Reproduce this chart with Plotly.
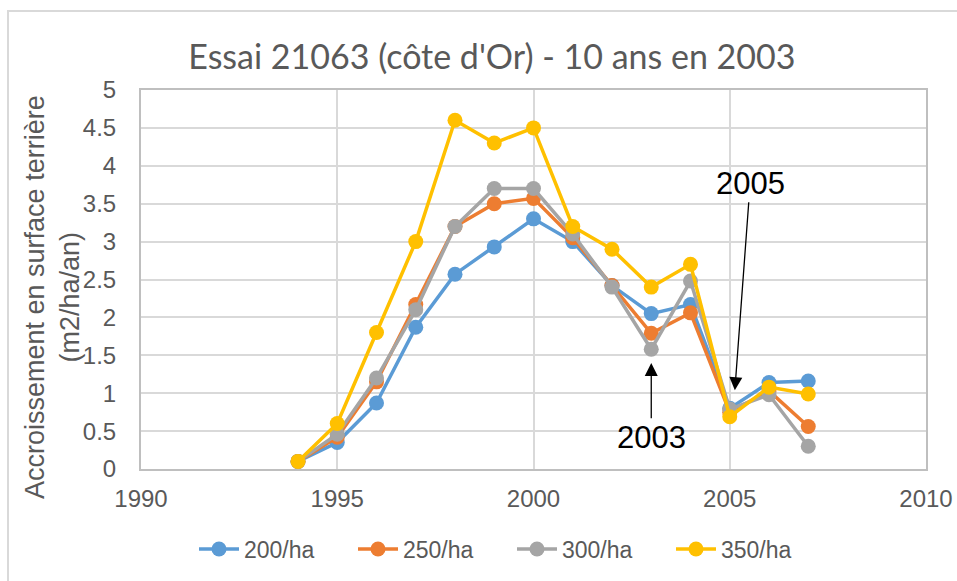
import plotly.graph_objects as go

years = [1994, 1995, 1996, 1997, 1998, 1999, 2000, 2001, 2002, 2003, 2004, 2005, 2006, 2007]
s200 = [0.10, 0.35, 0.87, 1.87, 2.57, 2.93, 3.30, 3.00, 2.42, 2.05, 2.17, 0.80, 1.14, 1.16]
s250 = [0.10, 0.42, 1.15, 2.17, 3.20, 3.50, 3.57, 3.05, 2.42, 1.79, 2.06, 0.75, 1.03, 0.56]
s300 = [0.10, 0.46, 1.20, 2.10, 3.20, 3.70, 3.70, 3.10, 2.40, 1.58, 2.48, 0.79, 0.98, 0.30]
s350 = [0.10, 0.60, 1.80, 3.00, 4.60, 4.30, 4.50, 3.20, 2.90, 2.40, 2.70, 0.69, 1.08, 0.99]
series_names = ["200/ha", "250/ha", "300/ha", "350/ha"]
series_values = [s200, s250, s300, s350]
colors = ["#5B9BD5", "#ED7D31", "#A5A5A5", "#FFC000"]

title_text = "Essai 21063 (côte d'Or) - 10 ans en 2003"
ytitle = "Accroissement en surface terrière<br>(m2/ha/an)"
xticks = [1990, 1995, 2000, 2005, 2010]
yticks = [0, 0.5, 1, 1.5, 2, 2.5, 3, 3.5, 4, 4.5, 5]
ytick_labels = ["0", "0.5", "1", "1.5", "2", "2.5", "3", "3.5", "4", "4.5", "5"]

fig = go.Figure()
for name, vals, col in zip(series_names, series_values, colors):
    fig.add_trace(go.Scatter(
        x=years, y=vals, name=name, mode="lines+markers",
        line=dict(color=col, width=3.5),
        marker=dict(color=col, size=15),
    ))

W, H = 957, 581
L, R, T, B = 141, 31, 90, 112
pw = W - L - R
ph = H - T - B

def px_to_paper_x(px):
    return (px - L) / pw

def px_to_paper_y(py):
    return (H - B - py) / ph

FONT = "Liberation Sans, Arial, sans-serif"
tickfont = dict(family=FONT, size=24, color="#595959")

fig.update_layout(
    width=W, height=H,
    margin=dict(l=L, r=R, t=T, b=B, autoexpand=False),
    paper_bgcolor="white", plot_bgcolor="white",
    title=dict(text=title_text, x=0.514, xanchor="center", y=1 - 57 / H, yanchor="middle",
               font=dict(family="Lato, sans-serif", size=34, color="#595959")),
    xaxis=dict(range=[1990, 2010], tickvals=xticks, showgrid=True, gridcolor="#D9D9D9", gridwidth=2,
               showline=True, linecolor="#BFBFBF", linewidth=2, mirror=True, zeroline=False,
               tickfont=tickfont, ticks="", ticklabelstandoff=7, automargin=False),
    yaxis=dict(range=[0, 5], tickvals=yticks, ticktext=ytick_labels, showgrid=True, gridcolor="#D9D9D9",
               gridwidth=2, showline=True, linecolor="#BFBFBF", linewidth=2, mirror=True, zeroline=False,
               tickfont=tickfont, ticks="", ticklabelstandoff=18, automargin=False),
    legend=dict(orientation="h", xref="container", yref="container", x=512 / W, xanchor="center",
                y=1 - 549 / H, yanchor="middle", font=dict(family=FONT, size=23, color="#595959"),
                itemwidth=40, entrywidth=104, entrywidthmode="pixels"),
    showlegend=True,
)

fig.add_annotation(text=ytitle, xref="paper", yref="paper", x=px_to_paper_x(52), y=px_to_paper_y(297),
                   xanchor="center", yanchor="middle", textangle=-90, showarrow=False,
                   font=dict(family=FONT, size=27, color="#595959"))

annot_font = dict(family=FONT, size=31, color="black")
fig.add_annotation(text="2005", x=2005.13, y=1.04, ax=2005.52, ay=3.77, xref="x", yref="y",
                   axref="x", ayref="y", showarrow=True, arrowhead=2, arrowsize=2, arrowwidth=1.3,
                   arrowcolor="black", font=annot_font)
fig.add_annotation(text="2003", x=2003.0, y=1.40, ax=2003.0, ay=0.42, xref="x", yref="y",
                   axref="x", ayref="y", showarrow=True, arrowhead=2, arrowsize=2, arrowwidth=1.3,
                   arrowcolor="black", font=annot_font)

fig.add_shape(type="rect", xref="paper", yref="paper",
              x0=px_to_paper_x(8), y0=px_to_paper_y(H + 5), x1=px_to_paper_x(W + 5), y1=px_to_paper_y(11),
              line=dict(color="#D9D9D9", width=2), fillcolor="rgba(0,0,0,0)", layer="below")

fig.write_html("out.html", config={"displayModeBar": False},
               post_script="document.body.style.margin='0';document.body.style.overflow='hidden';")
